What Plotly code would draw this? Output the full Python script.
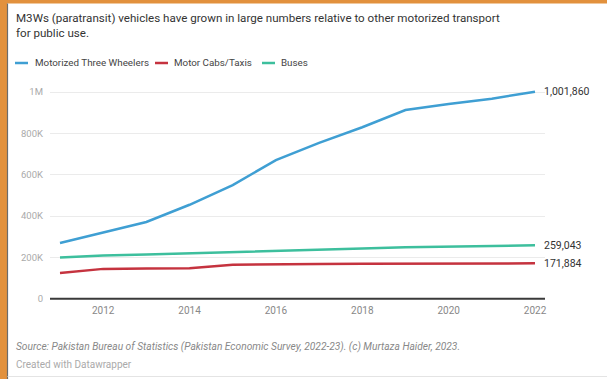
import plotly.graph_objects as go

years = list(range(2011, 2023))
m3w = [270000, 320000, 372000, 455000, 550000, 671000, 754000, 830000, 913000, 942000, 968000, 1001860]
cabs = [125000, 145000, 147000, 148000, 165000, 168000, 169000, 170000, 171000, 171500, 171700, 171884]
buses = [200000, 210000, 215000, 220000, 226000, 232000, 238000, 243000, 249000, 252000, 255000, 259043]

series_names = ["Motorized Three Wheelers", "Motor Cabs/Taxis", "Buses"]
series_vals = [m3w, cabs, buses]
colors = ["#3f9fd3", "#c5333f", "#3dbf9d"]

ytickvals = [0, 200000, 400000, 600000, 800000, 1000000]
yticktext = ["0", "200K", "400K", "600K", "800K", "1M"]
xtickvals = [2012, 2014, 2016, 2018, 2020, 2022]

W, H = 607, 379
L, R, T, B = 50, 62, 90, 76
pw = W - L - R
ph = H - T - B

xr = [2011 - 10 / 43.18, 2022 + 10 / 43.18]
yr = [-20000, 1010000]

def px(x):
    return (x - L) / pw

def py(y):
    return 1 - (y - T) / ph

fig = go.Figure()
# baseline at zero spanning the x-axis range
fig.add_trace(go.Scatter(x=xr, y=[0, 0], mode="lines", line=dict(color="#3a3a3a", width=2),
                         hoverinfo="skip", showlegend=False, cliponaxis=False))
for name, vals, c in zip(series_names, series_vals, colors):
    fig.add_trace(go.Scatter(x=years, y=vals, mode="lines", name=name,
                             line=dict(color=c, width=2.5), showlegend=False,
                             cliponaxis=False))
    fig.add_annotation(x=years[-1], y=vals[-1], text=f"{vals[-1]:,}", xref="x", yref="y",
                       xanchor="left", yanchor="middle", xshift=7, showarrow=False,
                       font=dict(family="Roboto", size=10.5, color="#333"))

shapes = []
# orange frame
shapes.append(dict(type="rect", xref="paper", yref="paper", x0=px(0), x1=px(7), y0=py(H), y1=py(0),
                   fillcolor="#e2913d", line=dict(width=0), layer="above"))
shapes.append(dict(type="rect", xref="paper", yref="paper", x0=px(0), x1=px(W), y0=py(3.5), y1=py(0),
                   fillcolor="#e2913d", line=dict(width=0), layer="above"))
shapes.append(dict(type="line", xref="paper", yref="paper", x0=px(7.5), x1=px(7.5), y0=py(H), y1=py(3.5),
                   line=dict(color="#6b6b6b", width=1.2)))
shapes.append(dict(type="line", xref="paper", yref="paper", x0=px(7.5), x1=px(W), y0=py(376.5), y1=py(376.5),
                   line=dict(color="#e4e4e4", width=1)))

# manual legend
leg_items = [(15, 33), (155, 172), (262, 279)]
annots = []
for (lx, tx), name, c in zip(leg_items, series_names, colors):
    shapes.append(dict(type="line", xref="paper", yref="paper", x0=px(lx), x1=px(lx + 13),
                       y0=py(63), y1=py(63), line=dict(color=c, width=2.5)))
    annots.append(dict(x=px(tx), y=py(63), xref="paper", yref="paper", text=name, showarrow=False,
                       xanchor="left", yanchor="middle",
                       font=dict(family="Roboto", size=9.8, color="#444")))

annots.append(dict(x=px(14), y=py(9), xref="paper", yref="paper",
                   text="M3Ws (paratransit) vehicles have grown in large numbers relative to other motorized transport<br>for public use.",
                   showarrow=False, xanchor="left", yanchor="top", align="left",
                   font=dict(family="Roboto", size=11.6, color="#333")))
annots.append(dict(x=px(14), y=py(347), xref="paper", yref="paper",
                   text="<i>Source: Pakistan Bureau of Statistics (Pakistan Economic Survey, 2022-23). (c) Murtaza Haider, 2023.</i>",
                   showarrow=False, xanchor="left", yanchor="middle",
                   font=dict(family="Roboto", size=10.2, color="#888")))
annots.append(dict(x=px(14), y=py(364), xref="paper", yref="paper",
                   text="Created with Datawrapper",
                   showarrow=False, xanchor="left", yanchor="middle",
                   font=dict(family="Roboto", size=10, color="#aaa")))

for a in annots:
    fig.add_annotation(**a)

fig.update_layout(
    width=W, height=H,
    margin=dict(l=L, r=R, t=T, b=B),
    paper_bgcolor="white", plot_bgcolor="white",
    shapes=shapes,
    showlegend=False,
    xaxis=dict(range=xr, tickvals=xtickvals, showgrid=False,
               zeroline=False, showline=False, ticks="",
               tickfont=dict(family="Roboto", size=10, color="#888")),
    yaxis=dict(range=yr, tickvals=ytickvals, ticktext=yticktext, showgrid=True,
               gridcolor="#ebebeb", gridwidth=1, zeroline=False,
               ticks="", showline=False, ticklabelstandoff=6,
               tickfont=dict(family="Roboto", size=9.5, color="#aaa")),
)

fig.write_html("out.html")
